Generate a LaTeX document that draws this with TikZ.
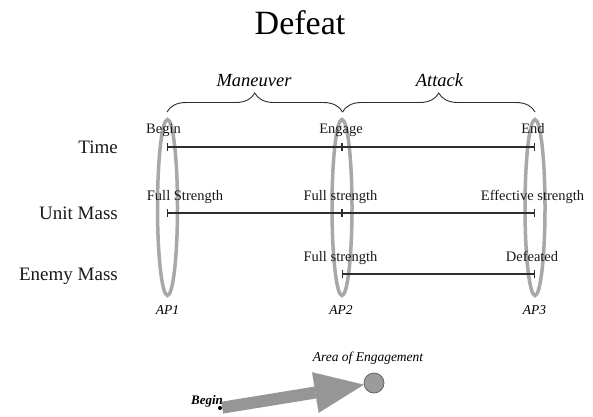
\documentclass[tikz,border=0pt]{standalone}
\usepackage{fontspec}
\setmainfont{Liberation Serif}
\usetikzlibrary{shapes.geometric,arrows.meta,decorations.pathreplacing}
\definecolor{apgray}{RGB}{168,168,168}
\definecolor{linecol}{RGB}{45,45,45}
\definecolor{arrgray}{RGB}{150,150,150}
\definecolor{circfill}{RGB}{155,155,155}
\definecolor{circline}{RGB}{100,100,100}
\tikzset{
  lab/.style={font=\fontsize{14.5}{16}\selectfont, anchor=base, inner sep=0pt, text=black!90},
  rowlab/.style={font=\fontsize{19}{22}\selectfont, anchor=base east, inner sep=0pt, text=black!90},
  aplab/.style={font=\fontsize{13.5}{15}\selectfont\itshape, anchor=base, inner sep=0pt},
  phase/.style={font=\fontsize{18.5}{20}\selectfont\itshape, anchor=base, inner sep=0pt},
  apell/.style={ellipse, draw=apgray, line width=3.5pt, inner sep=0pt, minimum width=20pt, minimum height=176pt},
  tline/.style={draw=linecol, line width=1.3pt},
  tick/.style={draw=linecol, line width=1.3pt},
  bracestyle/.style={draw=linecol, line width=0.9pt, decorate, decoration={brace, amplitude=19pt}},
}
\begin{document}
\begin{tikzpicture}[x=1pt,y=-1pt]
\useasboundingbox[fill=white] (0,0) rectangle (593,416);

% title
\node[font=\fontsize{34}{38}\selectfont, anchor=base, inner sep=0pt] (title) at (300,34) {Defeat};

% ellipses (action points)
\node[apell] (ap1) at (167.5,207.5) {};
\node[apell] (ap2) at (342,207.5) {};
\node[apell] (ap3) at (535,207.5) {};

% brace anchor coordinates
\coordinate (b1) at (167,112);
\coordinate (b2) at (342.5,112);
\coordinate (b3) at (535,112);
\draw[bracestyle] (b1) -- (b2);
\draw[bracestyle] (b2) -- (b3);
\node[phase] (man) at (254,86) {Maneuver};
\node[phase] (att) at (439.5,86) {Attack};

% timeline points
\coordinate (t1) at (167,147);
\coordinate (t2) at (342,147);
\coordinate (t3) at (535,147);
\coordinate (u1) at (167,213);
\coordinate (u2) at (342,213);
\coordinate (u3) at (535,213);
\coordinate (e2) at (342,274);
\coordinate (e3) at (535,274);

\draw[tline, {Bar[width=8pt]}-{Bar[width=8pt]}] (t1) -- (t3);
\draw[tick] ([yshift=-4pt]t2) -- ([yshift=4pt]t2);
\draw[tline, {Bar[width=8pt]}-{Bar[width=8pt]}] (u1) -- (u3);
\draw[tick] ([yshift=-4pt]u2) -- ([yshift=4pt]u2);
\draw[tline, {Bar[width=8pt]}-{Bar[width=8pt]}] (e2) -- (e3);

% row labels
\node[rowlab] (rtime) at (118,153.5) {Time};
\node[rowlab] (runit) at (118,219.5) {Unit Mass};
\node[rowlab] (renemy) at (118,280.5) {Enemy Mass};

% point labels
\node[lab] (lbegin) at (163.5,133.5) {Begin};
\node[lab] (lengage) at (341,133.5) {Engage};
\node[lab] (lend) at (533,133.5) {End};
\node[lab] (lfs1) at (185,200.5) {Full Strength};
\node[lab] (lfs2) at (340.5,200.5) {Full strength};
\node[lab] (leff) at (532.5,200.5) {Effective strength};
\node[lab] (lfs3) at (340.5,261) {Full strength};
\node[lab] (ldef) at (532,261) {Defeated};

% AP labels
\node[aplab] (lap1) at (167.5,314) {AP1};
\node[aplab] (lap2) at (341,314) {AP2};
\node[aplab] (lap3) at (534.5,314) {AP3};

% bottom movement sketch
\node[circle, fill=black, inner sep=0pt, minimum size=4pt] (bdot) at (220,408) {};
\node[circle, draw=circline, fill=circfill, line width=0.8pt, inner sep=0pt, minimum size=20pt] (aoe) at (374,383) {};
\draw[arrgray, line width=12pt, -{Triangle[length=49pt, width=41pt, line width=0.1pt]}] (bdot) -- (aoe);
\node[font=\fontsize{13}{15}\selectfont\bfseries\itshape, anchor=base, inner sep=0pt] (lbeg) at (207,404) {Begin};
\node[font=\fontsize{13.5}{15}\selectfont\itshape, anchor=base, inner sep=0pt] (laoe) at (368,361) {Area of Engagement};
\end{tikzpicture}
\end{document}
